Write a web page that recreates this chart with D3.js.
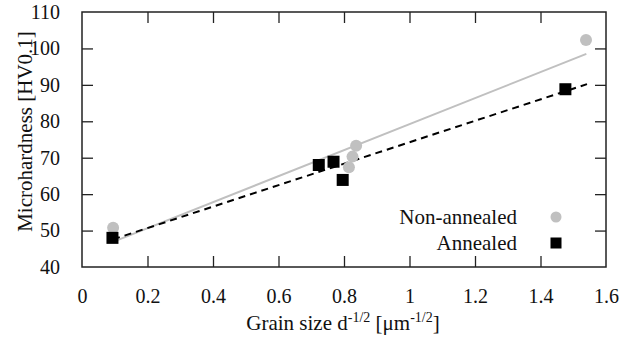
<!DOCTYPE html>
<html>
<head>
<meta charset="utf-8">
<script src="https://cdn.jsdelivr.net/npm/d3@7"></script>
<style>
  body { margin: 0; background: #fff; }
  svg { display: block; }
</style>
</head>
<body>
<svg id="chart" width="644" height="340"></svg>
<script>
// measured values
const nonAnnealedX = [0.095, 0.815, 0.826, 0.837, 1.539];
const nonAnnealedY = [50.8, 67.4, 70.3, 73.3, 102.3];
const annealedX = [0.093, 0.723, 0.768, 0.796, 1.476];
const annealedY = [48.0, 68.0, 68.9, 63.9, 88.8];

// fit lines (end points)
const fitNonX = [0.095, 1.54];
const fitNonY = [46.9, 98.5];
const fitAnnX = [0.095, 1.542];
const fitAnnY = [47.6, 90.2];

const xTicks = [0, 0.2, 0.4, 0.6, 0.8, 1, 1.2, 1.4, 1.6];
const yTicks = [40, 50, 60, 70, 80, 90, 100, 110];
const legendLabels = ["Non-annealed", "Annealed"];

const serif = "'Liberation Serif', 'Times New Roman', serif";
const margin = {left: 82, right: 38, top: 12, bottom: 73};
const W = 644, H = 340;
const svg = d3.select("#chart");

const x = d3.scaleLinear().domain([0, 1.6]).range([margin.left, W - margin.right]);
const y = d3.scaleLinear().domain([40, 110]).range([H - margin.bottom, margin.top]);

const grey = "#c0c0c0";
const tickLen = 11;

// frame + inward ticks on all four sides
const axisColor = "#222";
function styleAxis(g) {
    g.select(".domain").remove();
    g.selectAll(".tick line").attr("stroke", axisColor).attr("stroke-width", 1.3);
    g.selectAll(".tick text").attr("fill", "#111")
        .style("font-family", serif).style("font-size", "20px");
}

svg.append("g")
    .attr("transform", `translate(0,${y(40)})`)
    .call(d3.axisBottom(x).tickValues(xTicks).tickSizeInner(-tickLen).tickSizeOuter(0)
        .tickPadding(22).tickFormat(d => d === 0 || d === 1 ? d3.format("d")(d) : d3.format(".1f")(d)))
    .call(styleAxis);

svg.append("g")
    .attr("transform", `translate(0,${y(110)})`)
    .call(d3.axisTop(x).tickValues(xTicks.slice(1, -1)).tickSizeInner(-tickLen).tickSizeOuter(0).tickFormat(""))
    .call(styleAxis);

svg.append("g")
    .attr("transform", `translate(${x(0)},0)`)
    .call(d3.axisLeft(y).tickValues(yTicks).tickSizeInner(-tickLen).tickSizeOuter(0).tickPadding(22))
    .call(styleAxis);

svg.append("g")
    .attr("transform", `translate(${x(1.6)},0)`)
    .call(d3.axisRight(y).tickValues(yTicks.slice(1, -1)).tickSizeInner(-tickLen).tickSizeOuter(0).tickFormat(""))
    .call(styleAxis);

// hide the end ticks drawn on the frame corners
svg.selectAll(".tick").filter(d => d === 0 || d === 1.6 || d === 40 || d === 110)
    .select("line").attr("opacity", 0);

svg.append("rect")
    .attr("x", x(0)).attr("y", y(110))
    .attr("width", x(1.6) - x(0)).attr("height", y(40) - y(110))
    .attr("fill", "none").attr("stroke", axisColor).attr("stroke-width", 1.5);

// fit lines
const line = d3.line().x(d => x(d[0])).y(d => y(d[1]));
svg.append("path")
    .datum(d3.zip(fitNonX, fitNonY))
    .attr("d", line)
    .attr("fill", "none").attr("stroke", grey).attr("stroke-width", 2);

svg.append("path")
    .datum(d3.zip(fitAnnX, fitAnnY))
    .attr("d", line)
    .attr("fill", "none").attr("stroke", "#000").attr("stroke-width", 2)
    .attr("stroke-dasharray", "7,5");

// points
svg.append("g").selectAll("circle")
    .data(d3.zip(nonAnnealedX, nonAnnealedY))
    .join("circle")
    .attr("cx", d => x(d[0])).attr("cy", d => y(d[1]))
    .attr("r", 6).attr("fill", grey);

const sq = 12;
svg.append("g").selectAll("rect")
    .data(d3.zip(annealedX, annealedY))
    .join("rect")
    .attr("x", d => x(d[0]) - sq / 2).attr("y", d => y(d[1]) - sq / 2)
    .attr("width", sq).attr("height", sq).attr("fill", "#000");

// legend
const leg = svg.append("g").style("font-family", serif);
leg.selectAll("text")
    .data(legendLabels)
    .join("text")
    .attr("x", 517).attr("y", (d, i) => 224 + i * 26)
    .attr("text-anchor", "end").attr("font-size", 21).attr("fill", "#111")
    .text(d => d);
leg.append("circle").attr("cx", 556).attr("cy", 217).attr("r", 5.5).attr("fill", grey);
leg.append("rect").attr("x", 556 - 5.5).attr("y", 243 - 5.5).attr("width", 11).attr("height", 11).attr("fill", "#000");

// axis titles
const xt = svg.append("text")
    .attr("x", 343).attr("y", 330)
    .style("font-family", serif)
    .attr("text-anchor", "middle").attr("font-size", 21).attr("fill", "#111");
xt.append("tspan").text("Grain size d");
xt.append("tspan").attr("font-size", 14).attr("dy", -8).text("-1/2");
xt.append("tspan").attr("dy", 8).text(" [μm");
xt.append("tspan").attr("font-size", 14).attr("dy", -8).text("-1/2");
xt.append("tspan").attr("dy", 8).text("]");

svg.append("text")
    .attr("transform", `translate(32,${(y(40) + y(110)) / 2 - 8}) rotate(-90)`)
    .style("font-family", serif)
    .attr("text-anchor", "middle").attr("font-size", 21).attr("fill", "#111")
    .text("Microhardness [HV0.1]");
</script>
</body>
</html>
